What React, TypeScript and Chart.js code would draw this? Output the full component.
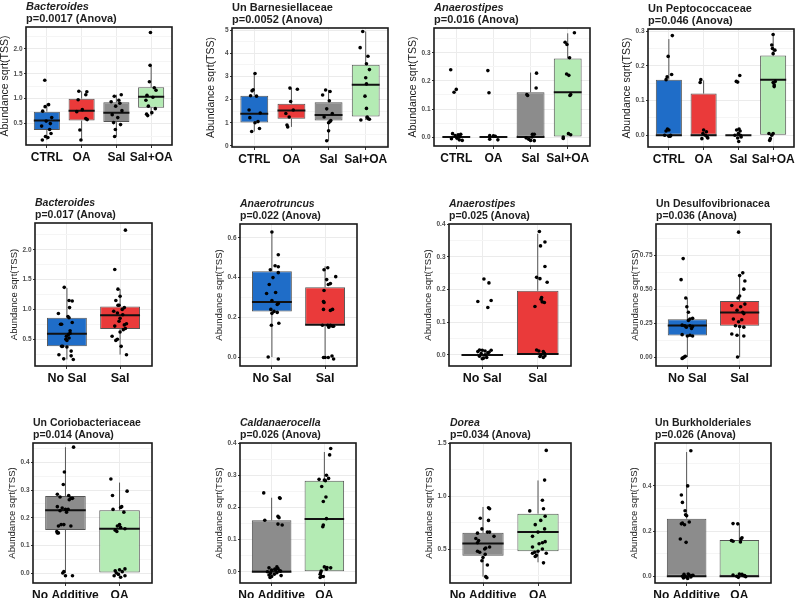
import React, { useEffect, useRef } from "react";
import { Chart, registerables } from "chart.js";

Chart.register(...registerables);

const FONT = '"Liberation Sans", Arial, Helvetica, sans-serif';
const BLUE = "#1f6dc8";
const RED = "#ea3a3a";
const GRAY = "#8c8c8c";
const GREEN = "#b4ebb4";

// ---------------- DATA ----------------
// boxes: [lower whisker, Q1, median, Q3, upper whisker]
// points: [jitter offset (category units), value]

const p1Labels = ["CTRL", "OA", "Sal", "Sal+OA"];
const p1Boxes = [
  [0.17, 0.37, 0.56, 0.74, 0.9],
  [0.17, 0.56, 0.76, 1.0, 1.15],
  [0.24, 0.53, 0.72, 0.93, 1.08],
  [0.66, 0.82, 1.04, 1.23, 1.67],
];
const p1Points = [
  [[-0.06, 1.37], [0.05, 0.88], [-0.05, 0.84], [-0.12, 0.75], [0.14, 0.62], [-0.02, 0.55], [0.1, 0.5], [-0.15, 0.45], [0.08, 0.38], [0.12, 0.3], [-0.04, 0.24], [0.03, 0.22], [-0.13, 0.17]],
  [[-0.08, 1.15], [0.15, 1.14], [0.12, 1.08], [-0.1, 0.98], [0.02, 0.78], [-0.14, 0.74], [0.12, 0.6], [0.16, 0.58], [-0.05, 0.37], [-0.02, 0.17]],
  [[0.14, 1.08], [-0.06, 1.05], [0.07, 0.97], [-0.15, 0.94], [0.1, 0.91], [-0.02, 0.85], [0.16, 0.76], [-0.12, 0.68], [0.04, 0.62], [-0.08, 0.52], [0.12, 0.48], [-0.03, 0.38], [-0.05, 0.24]],
  [[-0.02, 2.33], [-0.03, 1.67], [-0.05, 1.34], [0.09, 1.22], [0.14, 1.17], [-0.12, 1.07], [0.05, 1.03], [-0.15, 0.97], [-0.08, 0.85], [0.12, 0.8], [0.02, 0.72], [-0.13, 0.69], [-0.1, 0.66]],
];

const p2Labels = ["CTRL", "OA", "Sal", "Sal+OA"];
const p2Boxes = [
  [0.62, 1.01, 1.39, 2.17, 3.15],
  [0.82, 1.17, 1.53, 1.82, 2.5],
  [0.22, 1.1, 1.34, 1.89, 2.42],
  [1.12, 1.27, 2.64, 3.51, 4.95],
];
const p2Points = [
  [[0.02, 3.13], [-0.03, 2.43], [-0.06, 2.38], [-0.1, 2.17], [0.06, 2.15], [-0.14, 1.55], [0.16, 1.42], [-0.12, 1.22], [0.1, 1.05], [0.02, 1.0], [0.14, 0.75], [-0.07, 0.62]],
  [[-0.04, 2.5], [0.16, 2.45], [-0.02, 1.92], [0.05, 1.55], [-0.15, 1.4], [-0.06, 1.25], [-0.12, 0.9], [-0.1, 0.82]],
  [[-0.08, 2.42], [0.04, 2.35], [-0.16, 2.2], [0.02, 1.95], [-0.05, 1.6], [0.1, 1.4], [-0.12, 1.25], [0.06, 1.1], [0.04, 1.05], [0.0, 1.0], [0.0, 0.65], [-0.05, 0.22]],
  [[-0.08, 4.95], [-0.15, 4.25], [0.06, 3.88], [0.02, 3.55], [0.1, 3.3], [0.0, 2.95], [0.02, 2.68], [-0.02, 2.15], [0.02, 1.62], [0.04, 1.25], [0.06, 1.18], [0.1, 1.15], [-0.13, 1.12]],
];

const p3Labels = ["CTRL", "OA", "Sal", "Sal+OA"];
const p3Boxes = [
  [0, 0, 0, 0, 0],
  [0, 0, 0, 0, 0],
  [0, 0, 0, 0.16, 0.23],
  [0, 0, 0.16, 0.28, 0.37],
];
const p3Points = [
  [[-0.15, 0.24], [0.0, 0.17], [-0.06, 0.16], [-0.1, 0.012], [-0.03, 0.005], [0.05, 0.008], [0.12, 0.01], [-0.13, -0.006], [0.08, -0.01], [0.16, -0.012], [0.1, 0.002], [0.02, -0.004]],
  [[-0.15, 0.237], [-0.12, 0.158], [-0.1, 0.005], [0.05, 0.003], [-0.1, -0.008], [0.12, -0.01], [0.0, 0.004]],
  [[0.16, 0.228], [0.15, 0.175], [-0.1, 0.152], [-0.08, 0.148], [0.05, 0.01], [0.1, 0.01], [-0.12, -0.003], [-0.05, -0.008], [0.0, -0.012], [0.1, -0.013], [0.04, 0.0]],
  [[0.18, 0.372], [-0.07, 0.338], [-0.02, 0.33], [0.05, 0.283], [-0.03, 0.225], [0.03, 0.22], [0.08, 0.152], [0.06, 0.148], [0.02, 0.012], [0.08, 0.008], [-0.12, 0.0], [-0.12, -0.005]],
];

const p4Labels = ["CTRL", "OA", "Sal", "Sal+OA"];
const p4Boxes = [
  [0, 0, 0, 0.16, 0.277],
  [0, 0, 0, 0.12, 0.158],
  [0, 0, 0, 0, 0],
  [0, 0, 0.16, 0.23, 0.29],
];
const p4Points = [
  [[0.1, 0.287], [-0.02, 0.227], [0.08, 0.175], [-0.05, 0.168], [-0.08, 0.16], [-0.04, 0.018], [0.0, 0.015], [-0.08, 0.012], [0.0, -0.003], [0.04, -0.003], [-0.12, 0.0], [0.05, 0.0]],
  [[-0.08, 0.16], [-0.1, 0.152], [0.0, 0.015], [0.08, 0.01], [-0.02, 0.005], [0.05, 0.0], [0.1, -0.005], [0.12, -0.008], [-0.05, -0.01]],
  [[0.04, 0.172], [-0.06, 0.155], [-0.02, 0.153], [0.02, 0.018], [-0.05, 0.015], [0.05, 0.012], [0.0, 0.005], [-0.1, 0.0], [0.08, -0.005], [-0.02, -0.008], [0.01, -0.018], [0.06, 0.0]],
  [[0.0, 0.29], [-0.04, 0.26], [-0.02, 0.25], [0.05, 0.245], [0.0, 0.235], [0.06, 0.155], [0.0, 0.152], [0.03, 0.145], [0.03, 0.14], [-0.12, 0.005], [-0.04, 0.0], [-0.08, -0.01], [-0.1, -0.015], [0.0, 0.005]],
];

const p5Labels = ["No Sal", "Sal"];
const p5Boxes = [
  [0.16, 0.38, 0.59, 0.86, 1.36],
  [0.24, 0.67, 0.9, 1.05, 1.34],
];
const p5Points = [
  [[-0.05, 1.37], [0.04, 1.15], [0.1, 1.14], [0.05, 1.03], [-0.16, 0.93], [0.02, 0.88], [0.04, 0.86], [0.1, 0.78], [-0.12, 0.75], [-0.1, 0.75], [0.06, 0.64], [0.06, 0.6], [0.03, 0.58], [-0.01, 0.55], [0.04, 0.52], [-0.02, 0.5], [0.0, 0.48], [-0.1, 0.38], [-0.08, 0.38], [0.0, 0.37], [0.08, 0.3], [-0.15, 0.24], [0.08, 0.22], [-0.06, 0.17], [0.12, 0.16]],
  [[0.1, 2.33], [-0.1, 1.67], [-0.04, 1.34], [0.0, 1.22], [-0.08, 1.15], [-0.04, 1.07], [-0.02, 1.07], [0.08, 1.03], [0.04, 1.0], [-0.12, 0.97], [-0.05, 0.94], [0.05, 0.91], [0.0, 0.85], [-0.02, 0.8], [0.12, 0.76], [0.08, 0.74], [-0.1, 0.72], [0.1, 0.68], [0.06, 0.66], [0.0, 0.62], [-0.15, 0.55], [-0.05, 0.5], [-0.08, 0.48], [0.02, 0.38], [0.12, 0.24]],
];

const p6Labels = ["No Sal", "Sal"];
const p6Boxes = [
  [0.0, 0.23, 0.277, 0.432, 0.634],
  [0.0, 0.163, 0.163, 0.351, 0.457],
];
const p6Points = [
  [[0.0, 0.63], [0.12, 0.515], [0.06, 0.46], [0.12, 0.455], [-0.03, 0.44], [0.12, 0.425], [0.02, 0.4], [-0.05, 0.365], [-0.1, 0.32], [0.07, 0.325], [0.0, 0.285], [0.12, 0.27], [0.1, 0.265], [-0.02, 0.24], [0.04, 0.23], [0.1, 0.225], [0.0, 0.22], [0.13, 0.17], [-0.01, 0.16], [-0.07, 0.0], [0.12, -0.01]],
  [[0.05, 0.45], [-0.02, 0.44], [0.2, 0.405], [0.03, 0.39], [0.1, 0.37], [0.06, 0.365], [-0.02, 0.335], [-0.03, 0.28], [-0.02, 0.275], [-0.03, 0.24], [0.1, 0.235], [0.14, 0.24], [-0.05, 0.16], [0.05, 0.16], [0.1, 0.16], [0.14, 0.155], [0.16, 0.155], [0.07, 0.15], [-0.03, -0.002], [0.0, -0.002], [0.06, -0.002], [0.13, 0.005], [0.16, -0.01]],
];

const p7Labels = ["No Sal", "Sal"];
const p7Boxes = [
  [0, 0, 0, 0, 0],
  [0, 0, 0.003, 0.196, 0.37],
];
const p7Points = [
  [[0.03, 0.232], [0.12, 0.22], [0.16, 0.166], [-0.08, 0.163], [0.1, 0.145], [-0.05, 0.015], [0.0, 0.014], [0.05, 0.012], [-0.08, 0.01], [0.16, 0.014], [0.12, 0.008], [-0.02, 0.004], [0.05, 0.0], [-0.05, -0.004], [0.08, -0.008], [0.02, -0.01], [0.0, -0.012], [0.1, 0.006]],
  [[0.03, 0.377], [0.13, 0.345], [0.05, 0.333], [0.13, 0.27], [-0.02, 0.237], [0.04, 0.233], [0.17, 0.222], [0.07, 0.175], [0.06, 0.17], [0.08, 0.162], [0.12, 0.16], [-0.05, 0.148], [-0.02, 0.015], [0.02, 0.012], [0.1, 0.01], [0.12, 0.005], [0.06, 0.0], [0.13, -0.003], [0.04, -0.005], [0.1, -0.008]],
];

const p8Labels = ["No Sal", "Sal"];
const p8Boxes = [
  [0.0, 0.159, 0.232, 0.279, 0.433],
  [0.0, 0.23, 0.328, 0.413, 0.61],
];
const p8Points = [
  [[-0.08, 0.725], [-0.12, 0.57], [-0.03, 0.435], [-0.01, 0.37], [0.02, 0.33], [0.1, 0.285], [0.05, 0.28], [0.02, 0.27], [-0.1, 0.235], [-0.05, 0.23], [0.05, 0.23], [0.1, 0.225], [-0.02, 0.22], [0.08, 0.21], [-0.1, 0.165], [0.05, 0.16], [0.1, 0.155], [0.0, 0.155], [-0.04, 0.005], [-0.06, 0.0], [-0.08, -0.005], [-0.1, -0.01]],
  [[-0.02, 0.92], [0.06, 0.62], [0.0, 0.6], [0.1, 0.56], [0.08, 0.5], [0.0, 0.45], [-0.03, 0.435], [0.1, 0.39], [-0.15, 0.38], [0.02, 0.37], [-0.05, 0.345], [0.06, 0.33], [0.08, 0.32], [-0.12, 0.28], [0.04, 0.275], [-0.02, 0.26], [-0.08, 0.23], [0.0, 0.225], [0.08, 0.22], [-0.15, 0.17], [-0.05, 0.16], [0.08, 0.155], [-0.04, 0.0]],
];

const p9Labels = ["No Additive", "OA"];
const p9Boxes = [
  [0.0, 0.156, 0.227, 0.278, 0.455],
  [0.0, 0.0, 0.16, 0.227, 0.327],
];
const p9Points = [
  [[0.15, 0.455], [-0.02, 0.365], [-0.04, 0.32], [-0.15, 0.285], [0.06, 0.28], [-0.1, 0.275], [0.1, 0.27], [0.13, 0.27], [0.07, 0.265], [-0.15, 0.24], [-0.06, 0.235], [0.0, 0.23], [0.05, 0.23], [-0.1, 0.225], [0.02, 0.22], [-0.08, 0.175], [-0.03, 0.175], [0.1, 0.17], [-0.13, 0.17], [-0.16, 0.15], [-0.15, 0.145], [-0.13, 0.145], [-0.03, 0.005], [-0.05, 0.0], [0.0, -0.01], [0.13, -0.01]],
  [[-0.16, 0.34], [0.14, 0.296], [-0.13, 0.28], [0.04, 0.24], [0.02, 0.237], [-0.12, 0.23], [0.08, 0.22], [0.0, 0.175], [-0.04, 0.17], [0.02, 0.165], [0.1, 0.16], [-0.08, 0.155], [-0.05, 0.15], [0.1, 0.015], [0.0, 0.012], [-0.08, 0.008], [0.05, 0.005], [-0.06, 0.0], [-0.02, -0.005], [-0.1, -0.01], [0.1, -0.01], [0.02, -0.015]],
];

const p10Labels = ["No Additive", "OA"];
const p10Boxes = [
  [0, 0, 0, 0.16, 0.23],
  [0, 0, 0.164, 0.283, 0.372],
];
const p10Points = [
  [[-0.15, 0.245], [0.15, 0.23], [0.16, 0.228], [0.12, 0.172], [0.14, 0.168], [-0.13, 0.16], [0.12, 0.148], [0.2, 0.145], [0.1, 0.015], [-0.05, 0.012], [0.12, 0.01], [0.06, 0.008], [0.0, 0.005], [0.15, 0.003], [-0.08, 0.0], [0.1, -0.003], [-0.02, -0.005], [0.05, -0.008], [-0.05, -0.01], [0.18, -0.012], [0.0, -0.015], [-0.03, -0.018], [0.17, 0.002], [0.08, 0.006]],
  [[0.12, 0.383], [0.1, 0.363], [0.04, 0.3], [0.08, 0.29], [-0.1, 0.287], [0.0, 0.285], [0.02, 0.283], [-0.05, 0.265], [0.03, 0.232], [-0.02, 0.218], [0.04, 0.165], [-0.02, 0.145], [-0.03, 0.14], [0.0, 0.015], [0.05, 0.013], [0.12, 0.012], [0.04, 0.008], [-0.06, 0.002], [-0.07, -0.003], [-0.08, -0.008], [-0.05, -0.015], [-0.02, -0.015], [-0.08, -0.018]],
];

const p11Labels = ["No Additive", "OA"];
const p11Boxes = [
  [0.24, 0.437, 0.553, 0.653, 0.897],
  [0.375, 0.48, 0.66, 0.834, 1.147],
];
const p11Points = [
  [[0.1, 0.89], [0.12, 0.88], [-0.05, 0.79], [0.1, 0.77], [-0.02, 0.69], [0.08, 0.66], [0.12, 0.66], [-0.1, 0.65], [0.2, 0.62], [-0.13, 0.6], [-0.08, 0.58], [-0.1, 0.56], [0.12, 0.52], [0.05, 0.51], [0.03, 0.5], [-0.1, 0.48], [-0.06, 0.47], [0.04, 0.45], [0.0, 0.42], [-0.02, 0.39], [0.08, 0.35], [0.05, 0.24], [0.07, 0.23]],
  [[0.15, 1.43], [0.12, 1.15], [0.08, 0.96], [0.1, 0.88], [-0.15, 0.86], [0.13, 0.81], [0.05, 0.77], [-0.05, 0.73], [0.12, 0.69], [0.0, 0.66], [-0.1, 0.62], [0.13, 0.57], [0.08, 0.56], [0.02, 0.55], [-0.1, 0.52], [0.08, 0.5], [0.0, 0.48], [-0.06, 0.47], [-0.1, 0.46], [0.15, 0.46], [-0.03, 0.44], [-0.05, 0.43], [0.1, 0.37]],
];

const p12Labels = ["No Additive", "OA"];
const p12Boxes = [
  [0, 0, 0, 0.255, 0.55],
  [0, 0, 0, 0.16, 0.233],
];
const p12Points = [
  [[0.08, 0.556], [0.02, 0.4], [-0.1, 0.36], [-0.08, 0.327], [-0.03, 0.29], [-0.02, 0.272], [0.0, 0.268], [0.05, 0.24], [-0.08, 0.235], [-0.1, 0.232], [-0.04, 0.228], [-0.12, 0.165], [-0.01, 0.15], [0.03, 0.01], [-0.05, 0.008], [0.05, 0.005], [0.1, 0.003], [-0.08, 0.0], [-0.03, 0.0], [0.08, -0.003], [0.0, -0.005], [-0.06, -0.008], [0.02, -0.01], [0.12, 0.004]],
  [[-0.12, 0.233], [-0.03, 0.232], [0.05, 0.17], [0.03, 0.165], [-0.15, 0.158], [-0.12, 0.155], [0.02, 0.152], [0.0, 0.01], [0.05, 0.008], [-0.12, 0.005], [0.1, 0.003], [-0.05, 0.0], [0.12, -0.002], [-0.02, -0.005], [0.08, 0.002]],
];

// ---------------- PANEL SPECS (layout + axis settings) ----------------
type Spec = {
  title: string; italic: boolean; pval: string;
  labels: string[]; boxes: number[][]; points: number[][][]; colors: string[];
  yMin: number; yMax: number; step: number; dec: number;
  frame: [number, number, number, number]; row: number;
};

const C4 = [BLUE, RED, GRAY, GREEN];
const C2S = [BLUE, RED];
const C2A = [GRAY, GREEN];

const panels: Spec[] = [
  { title: "Bacteroides", italic: true, pval: "p=0.0017 (Anova)", labels: p1Labels, boxes: p1Boxes, points: p1Points, colors: C4, yMin: 0.07, yMax: 2.44, step: 0.5, dec: 1, frame: [26, 27, 173, 145], row: 0 },
  { title: "Un Barnesiellaceae", italic: false, pval: "p=0.0052 (Anova)", labels: p2Labels, boxes: p2Boxes, points: p2Points, colors: C4, yMin: -0.05, yMax: 5.1, step: 1, dec: 0, frame: [232, 28, 389, 147], row: 0 },
  { title: "Anaerostipes", italic: true, pval: "p=0.016 (Anova)", labels: p3Labels, boxes: p3Boxes, points: p3Points, colors: C4, yMin: -0.032, yMax: 0.389, step: 0.1, dec: 1, frame: [434, 28, 591, 146], row: 0 },
  { title: "Un Peptococcaceae", italic: false, pval: "p=0.046 (Anova)", labels: p4Labels, boxes: p4Boxes, points: p4Points, colors: C4, yMin: -0.034, yMax: 0.306, step: 0.1, dec: 1, frame: [648, 29, 795, 147], row: 0 },
  { title: "Bacteroides", italic: true, pval: "p=0.017 (Anova)", labels: p5Labels, boxes: p5Boxes, points: p5Points, colors: C2S, yMin: 0.05, yMax: 2.45, step: 0.5, dec: 1, frame: [35, 223, 153, 366], row: 1 },
  { title: "Anaerotruncus", italic: true, pval: "p=0.022 (Anova)", labels: p6Labels, boxes: p6Boxes, points: p6Points, colors: C2S, yMin: -0.045, yMax: 0.67, step: 0.2, dec: 1, frame: [240, 224, 358, 366], row: 1 },
  { title: "Anaerostipes", italic: true, pval: "p=0.025 (Anova)", labels: p7Labels, boxes: p7Boxes, points: p7Points, colors: C2S, yMin: -0.034, yMax: 0.4, step: 0.1, dec: 1, frame: [449, 224, 572, 366], row: 1 },
  { title: "Un Desulfovibrionacea", italic: false, pval: "p=0.036 (Anova)", labels: p8Labels, boxes: p8Boxes, points: p8Points, colors: C2S, yMin: -0.066, yMax: 0.98, step: 0.25, dec: 2, frame: [656, 224, 772, 366], row: 1 },
  { title: "Un Coriobacteriaceae", italic: false, pval: "p=0.014 (Anova)", labels: p9Labels, boxes: p9Boxes, points: p9Points, colors: C2A, yMin: -0.036, yMax: 0.47, step: 0.1, dec: 1, frame: [33, 443, 153, 583], row: 2 },
  { title: "Caldanaerocella", italic: true, pval: "p=0.026 (Anova)", labels: p10Labels, boxes: p10Boxes, points: p10Points, colors: C2A, yMin: -0.035, yMax: 0.4, step: 0.1, dec: 1, frame: [240, 443, 357, 583], row: 2 },
  { title: "Dorea", italic: true, pval: "p=0.034 (Anova)", labels: p11Labels, boxes: p11Boxes, points: p11Points, colors: C2A, yMin: 0.18, yMax: 1.5, step: 0.5, dec: 1, frame: [450, 443, 572, 583], row: 2 },
  { title: "Un Burkholderiales", italic: false, pval: "p=0.026 (Anova)", labels: p12Labels, boxes: p12Boxes, points: p12Points, colors: C2A, yMin: -0.03, yMax: 0.59, step: 0.2, dec: 1, frame: [655, 443, 772, 583], row: 2 },
];

const LEFT = 30;
const TOP = 30;
const RIGHT = 3;
const BOTTOM = 22;
const TITLE_SIZE = [11, 10.5, 10.5];
const YTITLE_SIZE = [10.5, 9.5, 9.5];
const XLAB_SIZE = [12, 12.5, 12];
const HALF_BOX = 0.375;
const YTITLE_CENTER = 9; // px from canvas left

const panelDecor = {
  id: "panelDecor",
  afterDraw(chart: any, _args: any, opts: any) {
    const { ctx, chartArea: a } = chart;
    ctx.save();
    ctx.strokeStyle = "#1a1a1a";
    ctx.lineWidth = 1.6;
    ctx.strokeRect(a.left, a.top, a.right - a.left, a.bottom - a.top);
    ctx.fillStyle = "#1e1e1e";
    ctx.textAlign = "left";
    ctx.textBaseline = "alphabetic";
    ctx.font = `${opts.italic ? "italic " : ""}bold ${opts.size}px ${FONT}`;
    ctx.fillText(opts.line1, a.left, a.top - 17);
    ctx.font = `bold ${opts.size}px ${FONT}`;
    ctx.fillText(opts.line2, a.left, a.top - 5);
    ctx.restore();
  },
};

function makeConfig(p: Spec): any {
  const n = p.labels.length;
  const whisk: any[] = [];
  const meds: any[] = [];
  p.boxes.forEach((b, i) => {
    const x = i + 1;
    whisk.push({ x, y: b[0] }, { x, y: b[1] }, { x, y: null }, { x, y: b[3] }, { x, y: b[4] }, { x, y: null });
    meds.push({ x: x - HALF_BOX, y: b[2] }, { x: x + HALF_BOX, y: b[2] }, { x, y: null });
  });
  const pts: any[] = [];
  p.points.forEach((g, i) => g.forEach(([dx, y]) => pts.push({ x: i + 1 + dx, y })));
  const isMajor = (v: number) => Math.abs(v / p.step - Math.round(v / p.step)) < 1e-6;
  const ytSize = YTITLE_SIZE[p.row];

  return {
    type: "scatter",
    data: {
      datasets: [
        { type: "scatter", data: pts, order: 0, pointRadius: 1.8, pointBackgroundColor: "#000", pointBorderWidth: 0, showLine: false },
        { type: "scatter", data: meds, order: 1, showLine: true, borderColor: "#111", borderWidth: 2, pointRadius: 0, spanGaps: false },
        {
          type: "bar", order: 2,
          data: p.boxes.map((b, i) => ({ x: i + 1, y: [b[1], b[3]] })),
          backgroundColor: p.colors, borderColor: "#555", borderWidth: 1, borderSkipped: false,
          categoryPercentage: 1, barPercentage: 0.75,
        },
        { type: "scatter", data: whisk, order: 3, showLine: true, borderColor: "#555", borderWidth: 1, pointRadius: 0, spanGaps: false },
      ],
    },
    plugins: [panelDecor],
    options: {
      responsive: false,
      animation: false,
      events: [],
      layout: { padding: { top: TOP, right: RIGHT, left: 0, bottom: 0 } },
      plugins: {
        legend: { display: false },
        tooltip: { enabled: false },
        panelDecor: { line1: p.title, line2: p.pval, italic: p.italic, size: TITLE_SIZE[p.row] },
      },
      scales: {
        x: {
          type: "linear", min: 0.4, max: n + 0.6, offset: false,
          afterFit: (s: any) => { s.height = BOTTOM; },
          border: { display: false },
          grid: { offset: false, color: "#ececec", tickColor: "#333", tickLength: 3, lineWidth: 1 },
          ticks: {
            stepSize: 1, includeBounds: false, autoSkip: false, maxRotation: 0, padding: 2,
            color: "#111", font: { family: FONT, size: XLAB_SIZE[p.row], weight: "bold" },
            callback: (v: number) => (Number.isInteger(v) && v >= 1 && v <= n ? p.labels[v - 1] : ""),
          },
        },
        y: {
          type: "linear", min: p.yMin, max: p.yMax, beginAtZero: false,
          afterFit: (s: any) => { s.width = LEFT; },
          border: { display: false },
          grid: {
            color: (c: any) => (c.tick && isMajor(c.tick.value) ? "#ebebeb" : "#f5f5f5"),
            tickColor: (c: any) => (c.tick && isMajor(c.tick.value) ? "#333" : "rgba(0,0,0,0)"),
            tickLength: 2,
          },
          ticks: {
            stepSize: p.step / 2, includeBounds: false, autoSkip: false, padding: 1.5,
            color: "#4d4d4d", font: { family: FONT, size: 6.5, weight: "bold" },
            callback: (v: number) => (isMajor(v) ? (Math.abs(v) < 1e-9 ? 0 : v).toFixed(p.dec) : ""),
          },
          title: {
            display: true, text: "Abundance sqrt(TSS)", color: "#222",
            font: { family: FONT, size: ytSize },
            padding: { top: YTITLE_CENTER - (ytSize * 1.2) / 2, bottom: 0 },
          },
        },
      },
    },
  };
}

function Panel({ spec }: { spec: Spec }) {
  const ref = useRef<HTMLCanvasElement>(null);
  const [l, t, r, b] = spec.frame;
  const w = r - l + LEFT + RIGHT;
  const h = b - t + TOP + BOTTOM;
  useEffect(() => {
    const chart = new Chart(ref.current as HTMLCanvasElement, makeConfig(spec));
    return () => chart.destroy();
  }, [spec]);
  return (
    <canvas
      ref={ref}
      width={w}
      height={h}
      style={{ position: "absolute", left: l - LEFT, top: t - TOP, width: w, height: h, display: "block" }}
    />
  );
}

export default function App() {
  return (
    <div style={{ position: "absolute", left: 0, top: 0, width: 800, height: 598, overflow: "hidden", background: "#fff" }}>
      {panels.map((p, i) => (
        <Panel key={i} spec={p} />
      ))}
    </div>
  );
}
